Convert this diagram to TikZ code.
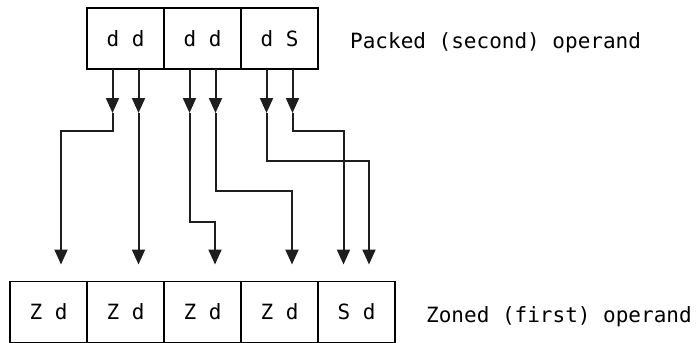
\documentclass[tikz,border=0pt]{standalone}
\usepackage{fontspec}
\setmonofont{DejaVu Sans Mono}
\usetikzlibrary{arrows.meta,positioning}
\definecolor{linegray}{RGB}{30,30,30}

\begin{document}
\begin{tikzpicture}[x=1pt,y=-1pt,cell/.style={draw,line width=1.6pt,minimum width=77pt,minimum height=61pt,inner sep=0pt,outer sep=0pt,font=\ttfamily\fontsize{21}{25}\selectfont},lbl/.style={anchor=base west,inner sep=0pt,font=\ttfamily\fontsize{21}{25}\selectfont},arr/.style={-{Triangle[length=15pt,width=13pt]},line width=2pt,draw=linegray},down/.style={arr,shorten >=17pt}]
\useasboundingbox (0,0) rectangle (697,343);

\node[cell] (pk1) at(125.5,38.5) {d d};
\node[cell,right=0pt of pk1] (pk2) {d d};
\node[cell,right=0pt of pk2] (pk3) {d S};
\node[lbl] (pklbl) at(350,48) {Packed (second) operand};

\node[cell] (zn1) at(48.5,312) {Z d};
\node[cell,right=0pt of zn1] (zn2) {Z d};
\node[cell,right=0pt of zn2] (zn3) {Z d};
\node[cell,right=0pt of zn3] (zn4) {Z d};
\node[cell,right=0pt of zn4] (zn5) {S d};
\node[lbl] (znlbl) at(426,322) {Zoned (first) operand};

% half bytes leaving the packed field
\coordinate (a1) at(112.5,113);\coordinate (a2) at(138.5,113);
\coordinate (a3) at(189.5,113);\coordinate (a4) at(215.5,113);
\coordinate (a5) at(266.5,113);\coordinate (a6) at(292.5,113);
\foreach \i in {1,...,6} \draw[arr](pk1.south -| a\i)--(a\i);

% routed into the zoned field
\draw[down](a1)--++(0,18)-|([xshift=12.5pt]zn1.north);
\draw[down](a2)--(a2 |- zn2.north);
\draw[down](a3)--++(0,109)-|([xshift=12.5pt]zn3.north);
\draw[down](a4)--++(0,78)-|([xshift=12.5pt]zn4.north);
\draw[down](a5)--++(0,48)-|([xshift=12.5pt]zn5.north);
\draw[down](a6)--++(0,18)-|([xshift=-13pt]zn5.north);
\end{tikzpicture}
\end{document}
